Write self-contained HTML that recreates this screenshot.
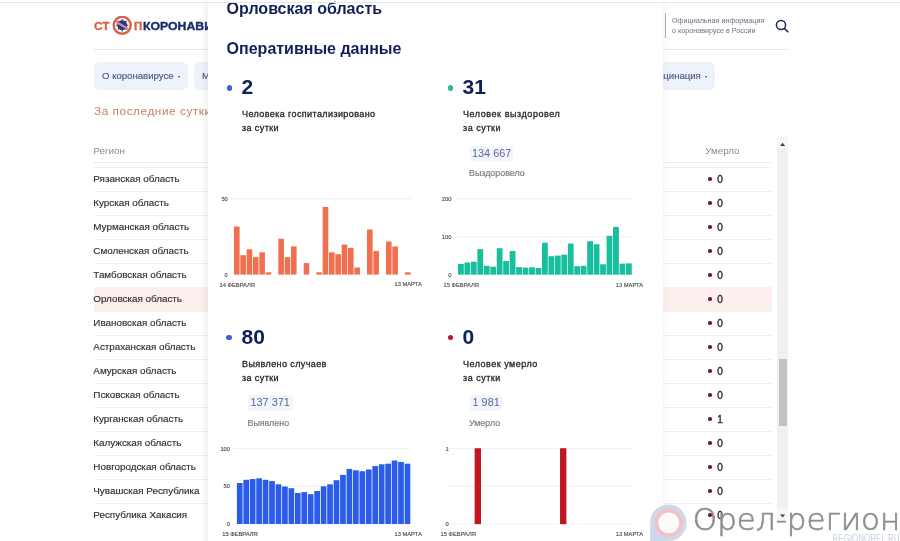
<!DOCTYPE html>
<html lang="ru">
<head>
<meta charset="utf-8">
<title>Орловская область — Оперативные данные</title>
<style>
*{margin:0;padding:0;box-sizing:border-box}
html,body{width:900px;height:541px;overflow:hidden;background:#fff}
body{position:relative;font-family:"Liberation Sans","DejaVu Sans",sans-serif;color:#333}
.abs{position:absolute;white-space:nowrap}
#topline{position:absolute;left:0;top:1.5px;width:900px;height:1.5px;background:#e6e6e6;z-index:5}
/* header */
#logo{position:absolute;left:94px;top:16px;height:18px;width:130px}
#hdr-line{position:absolute;left:94px;top:49px;width:695px;height:1px;background:#e8e8e8}
#hdr-vline{position:absolute;left:665px;top:13px;width:1px;height:25px;background:#a9aebb}
.hdr-info{position:absolute;left:672px;font-size:7.2px;color:#6b7282;line-height:10.6px}
/* nav */
.nav{position:absolute;top:62px;height:28px;border-radius:6px;background:#eef3fb;color:#4b5a88;-webkit-text-stroke:0.15px #4b5a88;font-size:9.6px;line-height:28px;padding-left:8px}
.caret{display:inline-block;width:0;height:0;border-left:1.8px solid transparent;border-right:1.8px solid transparent;border-top:2.8px solid #34416e;margin-left:4.2px;vertical-align:middle;position:relative;top:0.8px}
#last24{position:absolute;left:94px;top:104px;font-size:11.8px;letter-spacing:0.55px;color:#c97d6a}
/* table */
.th{position:absolute;top:144.8px;font-size:9.8px;color:#8a8a8a}
.hl{position:absolute;left:94px;width:678px;height:1px;background:#efefef}
.row{position:absolute;left:94px;width:678px;height:24px}
.row .rn{position:absolute;left:-0.7px;top:6.1px;font-size:9.85px;color:#2e2e2e;-webkit-text-stroke:0.15px #2e2e2e;white-space:nowrap}
.row .dot{position:absolute;left:614.4px;top:9.8px;width:3.4px;height:3.4px;border-radius:50%;background:#6a1d2c}
.row .val{position:absolute;left:623.3px;top:7px;font-size:10px;color:#2a2a2a;-webkit-text-stroke:0.35px #2a2a2a}
.row.sel{background:#fcefee}
/* scrollbar */
#sb{position:absolute;left:777.2px;top:137px;width:10.8px;height:382px;background:#f1f1f1}
#sbup,#sbdn{position:absolute;left:777.2px;width:10.8px;height:12px;background:#f7f7f7}
#sbthumb{position:absolute;left:779px;top:358.5px;width:8px;height:67px;background:#c1c1c1}
/* popup */
#popup{position:absolute;left:208px;top:0;width:455px;height:560px;background:#fff;box-shadow:0 0 10px rgba(0,0,0,.06),-3px 0 6px rgba(0,0,0,.04)}
.ptitle{position:absolute;left:226.6px;font-size:16px;font-weight:bold;color:#112057;white-space:nowrap}
.sdot{position:absolute;width:5.7px;height:5.7px;border-radius:50%}
.num{position:absolute;font-size:21px;font-weight:bold;color:#0f1f58;white-space:nowrap}
.lbl{position:absolute;font-size:9px;letter-spacing:0.4px;-webkit-text-stroke:0.3px #262626;color:#262626;line-height:14.4px;white-space:nowrap}
.badge{position:absolute;height:15.5px;background:#f2f5fc;border-radius:2px;color:#5b6a94;font-size:10.9px;line-height:15.5px;white-space:nowrap}
.sub{position:absolute;font-size:8.9px;color:#7f7f7f;-webkit-text-stroke:0.2px #7f7f7f;white-space:nowrap;margin-top:1.2px}
svg text{font-family:"Liberation Sans",sans-serif}
/* watermark */
#wm{position:absolute;left:0;top:0}
</style>
</head>
<body>
<div id="topline"></div>

<!-- logo -->
<div id="logo">
  <span class="abs" style="left:0;top:2.9px;font-size:11.7px;font-weight:bold;color:#dc6342;-webkit-text-stroke:0.35px #dc6342;transform:scaleX(1.02);transform-origin:0 0">СТ</span>
  <svg class="abs" style="left:17px;top:0" width="22" height="21" viewBox="0 0 22 21">
    <circle cx="11.2" cy="9.3" r="8.5" fill="#fff" stroke="#d8613f" stroke-width="2.4"/>
    <g stroke="#26357e" stroke-width="1.1">
      <line x1="11.2" y1="3.2" x2="11.2" y2="15.4"/><line x1="5.1" y1="9.3" x2="17.3" y2="9.3"/>
      <line x1="6.9" y1="5" x2="15.5" y2="13.6"/><line x1="15.5" y1="5" x2="6.9" y2="13.6"/>
    </g>
    <circle cx="11.2" cy="9.3" r="5" fill="#2a3880"/>
    <line x1="5" y1="5.8" x2="17.2" y2="13" stroke="#c98c9c" stroke-width="2.2"/>
  </svg>
  <span class="abs" style="left:39.8px;top:2.9px;font-size:11.7px;font-weight:bold;color:#dc6342;-webkit-text-stroke:0.35px #dc6342;transform:scaleX(0.98);transform-origin:0 0">П</span>
  <span class="abs" style="left:48.6px;top:2.9px;font-size:11.7px;font-weight:bold;color:#1b2a6b;-webkit-text-stroke:0.35px #1b2a6b;transform:scaleX(1.05);transform-origin:0 0">КОРОНАВИРУС</span>
</div>

<div id="hdr-line"></div>
<div id="hdr-vline"></div>
<div class="hdr-info" style="top:15.6px">Официальная информация<br>о коронавирусе в России</div>
<svg class="abs" style="left:774px;top:18px" width="16" height="16" viewBox="0 0 16 16">
  <circle cx="7" cy="7" r="4.6" fill="none" stroke="#1b2a4e" stroke-width="1.5"/>
  <line x1="10.4" y1="10.4" x2="13.8" y2="13.8" stroke="#1b2a4e" stroke-width="1.6" stroke-linecap="round"/>
</svg>

<!-- nav -->
<div class="nav" style="left:94px;width:94px">О коронавирусе<span class="caret"></span></div>
<div class="nav" style="left:194px;width:100px">Меры поддержки</div>
<div class="nav" style="left:600px;width:115px;padding-left:0;text-align:right;padding-right:8px">Вакцинация<span class="caret"></span></div>

<div id="last24">За последние сутки</div>

<!-- table -->
<div class="th" style="left:93.4px">Регион</div>
<div class="th" style="left:705.2px">Умерло</div>
<div class="hl" style="top:162px"></div>
<div class="hl" style="top:167px"></div>
<div class="row" style="top:167.4px"><span class="rn">Рязанская область</span><span class="dot"></span><span class="val">0</span></div>
<div class="hl" style="top:191.4px"></div>
<div class="row" style="top:191.4px"><span class="rn">Курская область</span><span class="dot"></span><span class="val">0</span></div>
<div class="hl" style="top:215.4px"></div>
<div class="row" style="top:215.4px"><span class="rn">Мурманская область</span><span class="dot"></span><span class="val">0</span></div>
<div class="hl" style="top:239.4px"></div>
<div class="row" style="top:239.4px"><span class="rn">Смоленская область</span><span class="dot"></span><span class="val">0</span></div>
<div class="hl" style="top:263.4px"></div>
<div class="row" style="top:263.4px"><span class="rn">Тамбовская область</span><span class="dot"></span><span class="val">0</span></div>
<div class="hl" style="top:287.4px"></div>
<div class="row sel" style="top:287.4px"><span class="rn">Орловская область</span><span class="dot"></span><span class="val">0</span></div>
<div class="hl" style="top:311.4px"></div>
<div class="row" style="top:311.4px"><span class="rn">Ивановская область</span><span class="dot"></span><span class="val">0</span></div>
<div class="hl" style="top:335.4px"></div>
<div class="row" style="top:335.4px"><span class="rn">Астраханская область</span><span class="dot"></span><span class="val">0</span></div>
<div class="hl" style="top:359.4px"></div>
<div class="row" style="top:359.4px"><span class="rn">Амурская область</span><span class="dot"></span><span class="val">0</span></div>
<div class="hl" style="top:383.4px"></div>
<div class="row" style="top:383.4px"><span class="rn">Псковская область</span><span class="dot"></span><span class="val">0</span></div>
<div class="hl" style="top:407.4px"></div>
<div class="row" style="top:407.4px"><span class="rn">Курганская область</span><span class="dot"></span><span class="val">1</span></div>
<div class="hl" style="top:431.4px"></div>
<div class="row" style="top:431.4px"><span class="rn">Калужская область</span><span class="dot"></span><span class="val">0</span></div>
<div class="hl" style="top:455.4px"></div>
<div class="row" style="top:455.4px"><span class="rn">Новгородская область</span><span class="dot"></span><span class="val">0</span></div>
<div class="hl" style="top:479.4px"></div>
<div class="row" style="top:479.4px"><span class="rn">Чувашская Республика</span><span class="dot"></span><span class="val">0</span></div>
<div class="hl" style="top:503.4px"></div>
<div class="row" style="top:503.4px"><span class="rn">Республика Хакасия</span><span class="dot"></span><span class="val">0</span></div>


<div id="sb"></div>
<div id="sbthumb"></div>
<div id="sbup" style="top:137px"></div><div id="sbdn" style="top:508px"></div>
<svg class="abs" style="left:777px;top:137px" width="12" height="383" viewBox="777 137 12 383"><path d="M782.6 142.7 L785.2 146.1 L780 146.1 Z" fill="#444"/><path d="M780 514.6 L785.2 514.6 L782.6 517.6 Z" fill="#444"/></svg>

<!-- popup -->
<div id="popup"></div>
<div class="ptitle" style="top:-0.3px">Орловская область</div>
<div class="ptitle" style="top:39.9px">Оперативные данные</div>

<span class="sdot" style="left:226.5px;top:84.9px;background:#3f60cf"></span>
<div class="num" style="left:241.6px;top:75.3px">2</div>
<div class="lbl" style="left:242px;top:107px">Человека госпитализировано<br>за сутки</div>

<span class="sdot" style="left:447.8px;top:84.9px;background:#27b8a0"></span>
<div class="num" style="left:462.6px;top:75.3px">31</div>
<div class="lbl" style="left:463px;top:107px;letter-spacing:0.56px">Человек выздоровел<br>за сутки</div>
<div class="badge" style="left:469.5px;top:146px;width:43px;padding-left:2.5px">134 667</div>
<div class="sub" style="left:469px;top:167px">Выздоровело</div>

<span class="sdot" style="left:226.2px;top:334.5px;background:#3f60cf"></span>
<div class="num" style="left:241.6px;top:325px">80</div>
<div class="lbl" style="left:242px;top:356.5px">Выявлено случаев<br>за сутки</div>
<div class="badge" style="left:247.5px;top:395.3px;width:45px;padding-left:3px">137 371</div>
<div class="sub" style="left:247.5px;top:416.5px">Выявлено</div>

<span class="sdot" style="left:447.8px;top:334.5px;background:#b5152b"></span>
<div class="num" style="left:462.6px;top:325px">0</div>
<div class="lbl" style="left:463px;top:356.5px;letter-spacing:0.5px">Человек умерло<br>за сутки</div>
<div class="badge" style="left:469.5px;top:395.3px;width:32px;padding-left:3px">1 981</div>
<div class="sub" style="left:469px;top:416.5px">Умерло</div>
<svg class="abs" style="left:0;top:0" width="900" height="541" viewBox="0 0 900 541">
<g stroke="#f0f0f0" stroke-width="1">
<line x1="231.3" y1="198.7" x2="411.9" y2="198.7"/>
<line x1="455.6" y1="198.7" x2="631.9" y2="198.7"/><line x1="455.6" y1="236.7" x2="631.9" y2="236.7"/>
<line x1="232.7" y1="448.4" x2="410.6" y2="448.4"/><line x1="232.7" y1="486.2" x2="410.6" y2="486.2"/>
<line x1="448" y1="448.4" x2="631.9" y2="448.4"/><line x1="448" y1="486.2" x2="631.9" y2="486.2"/><line x1="448" y1="524" x2="631.9" y2="524"/>
</g>
<g fill="#ef6f4f"><rect x="234.00" y="226.50" width="5.6" height="48.10"/><rect x="240.33" y="255.20" width="5.6" height="19.40"/><rect x="246.67" y="249.30" width="5.6" height="25.30"/><rect x="253.00" y="257.20" width="5.6" height="17.40"/><rect x="259.33" y="252.30" width="5.6" height="22.30"/><rect x="265.67" y="272.30" width="5.6" height="2.30"/><rect x="278.33" y="238.70" width="5.6" height="35.90"/><rect x="284.66" y="257.20" width="5.6" height="17.40"/><rect x="291.00" y="246.40" width="5.6" height="28.20"/><rect x="303.66" y="263.10" width="5.6" height="11.50"/><rect x="316.33" y="272.30" width="5.6" height="2.30"/><rect x="322.66" y="206.90" width="5.6" height="67.70"/><rect x="329.00" y="252.30" width="5.6" height="22.30"/><rect x="335.33" y="254.20" width="5.6" height="20.40"/><rect x="341.66" y="244.60" width="5.6" height="30.00"/><rect x="347.99" y="247.80" width="5.6" height="26.80"/><rect x="354.33" y="267.50" width="5.6" height="7.10"/><rect x="366.99" y="229.50" width="5.6" height="45.10"/><rect x="373.33" y="251.00" width="5.6" height="23.60"/><rect x="385.99" y="241.60" width="5.6" height="33.00"/><rect x="392.33" y="246.40" width="5.6" height="28.20"/><rect x="404.99" y="272.30" width="5.6" height="2.30"/></g>
<g fill="#17bf9f"><rect x="458.00" y="263.90" width="5.8" height="10.80"/><rect x="464.46" y="262.50" width="5.8" height="12.20"/><rect x="470.92" y="261.70" width="5.8" height="13.00"/><rect x="477.38" y="249.20" width="5.8" height="25.50"/><rect x="483.84" y="265.80" width="5.8" height="8.90"/><rect x="490.30" y="266.70" width="5.8" height="8.00"/><rect x="496.76" y="248.20" width="5.8" height="26.50"/><rect x="503.22" y="261.00" width="5.8" height="13.70"/><rect x="509.68" y="251.00" width="5.8" height="23.70"/><rect x="516.14" y="267.10" width="5.8" height="7.60"/><rect x="522.60" y="267.60" width="5.8" height="7.10"/><rect x="529.06" y="267.30" width="5.8" height="7.40"/><rect x="535.52" y="268.00" width="5.8" height="6.70"/><rect x="541.98" y="242.70" width="5.8" height="32.00"/><rect x="548.44" y="256.20" width="5.8" height="18.50"/><rect x="554.90" y="255.60" width="5.8" height="19.10"/><rect x="561.36" y="254.70" width="5.8" height="20.00"/><rect x="567.82" y="243.60" width="5.8" height="31.10"/><rect x="574.28" y="266.20" width="5.8" height="8.50"/><rect x="580.74" y="265.80" width="5.8" height="8.90"/><rect x="587.20" y="241.20" width="5.8" height="33.50"/><rect x="593.66" y="244.20" width="5.8" height="30.50"/><rect x="600.12" y="264.30" width="5.8" height="10.40"/><rect x="606.58" y="235.80" width="5.8" height="38.90"/><rect x="613.04" y="227.00" width="5.8" height="47.70"/><rect x="619.50" y="263.60" width="5.8" height="11.10"/><rect x="625.96" y="263.40" width="5.8" height="11.30"/></g>
<g fill="#2b5ce9"><rect x="236.90" y="483.00" width="5.7" height="41.00"/><rect x="243.35" y="479.80" width="5.7" height="44.20"/><rect x="249.80" y="479.00" width="5.7" height="45.00"/><rect x="256.25" y="478.30" width="5.7" height="45.70"/><rect x="262.70" y="479.80" width="5.7" height="44.20"/><rect x="269.15" y="481.10" width="5.7" height="42.90"/><rect x="275.60" y="484.30" width="5.7" height="39.70"/><rect x="282.05" y="486.50" width="5.7" height="37.50"/><rect x="288.50" y="488.20" width="5.7" height="35.80"/><rect x="294.95" y="493.00" width="5.7" height="31.00"/><rect x="301.40" y="492.10" width="5.7" height="31.90"/><rect x="307.85" y="494.20" width="5.7" height="29.80"/><rect x="314.30" y="491.00" width="5.7" height="33.00"/><rect x="320.75" y="486.30" width="5.7" height="37.70"/><rect x="327.20" y="484.30" width="5.7" height="39.70"/><rect x="333.65" y="480.20" width="5.7" height="43.80"/><rect x="340.10" y="474.90" width="5.7" height="49.10"/><rect x="346.55" y="468.90" width="5.7" height="55.10"/><rect x="353.00" y="470.30" width="5.7" height="53.70"/><rect x="359.45" y="471.20" width="5.7" height="52.80"/><rect x="365.90" y="469.50" width="5.7" height="54.50"/><rect x="372.35" y="466.10" width="5.7" height="57.90"/><rect x="378.80" y="464.30" width="5.7" height="59.70"/><rect x="385.25" y="463.70" width="5.7" height="60.30"/><rect x="391.70" y="460.50" width="5.7" height="63.50"/><rect x="398.15" y="462.00" width="5.7" height="62.00"/><rect x="404.60" y="463.70" width="5.7" height="60.30"/></g>
<g fill="#c8141f" stroke="#a3111d" stroke-width="0.9"><rect x="475.1" y="448.8" width="5.4" height="74.9"/><rect x="560.6" y="448.8" width="5.3" height="74.9"/></g>
<g style="font-size:5.75px" fill="#474747" stroke="#474747" stroke-width="0.12">
<text x="227.8" y="200.8" text-anchor="end">50</text><text x="227.8" y="276.8" text-anchor="end">0</text>
<text x="451.4" y="200.8" text-anchor="end">200</text><text x="451.4" y="238.7" text-anchor="end">100</text><text x="451.4" y="276.8" text-anchor="end">0</text>
<text x="230" y="450.5" text-anchor="end">100</text><text x="230" y="488.2" text-anchor="end">50</text><text x="230" y="526.1" text-anchor="end">0</text>
<text x="448.6" y="450.5" text-anchor="end">1</text><text x="448.6" y="526.1" text-anchor="end">0</text>
<text x="219.6" y="286.6" text-anchor="start">14 ФЕВРАЛЯ</text><text x="421.8" y="286.4" text-anchor="end">13 МАРТА</text>
<text x="443.6" y="286.6" text-anchor="start">15 ФЕВРАЛЯ</text><text x="643.2" y="286.6" text-anchor="end">13 МАРТА</text>
<text x="222.2" y="536" text-anchor="start">15 ФЕВРАЛЯ</text><text x="421.8" y="536" text-anchor="end">13 МАРТА</text>
<text x="440.6" y="536" text-anchor="start">15 ФЕВРАЛЯ</text><text x="643.2" y="536" text-anchor="end">13 МАРТА</text>
</g>
</svg>

<!-- watermark -->
<svg class="abs" style="left:0;top:0" width="900" height="541" viewBox="0 0 900 541">
  <g opacity="0.9">
    <path d="M650.2 541 L650.2 520 A18.3 18.3 0 1 1 668.5 541.1 Z" fill="#ccd5e7"/>
    <circle cx="668.8" cy="522.8" r="12.3" fill="none" stroke="#f3bcc0" stroke-width="3.9"/>
    <circle cx="668.8" cy="522.8" r="10.4" fill="#fbfbfc"/>
  </g>
  <text x="692.8" y="529.8" textLength="207.5" lengthAdjust="spacingAndGlyphs" style="font-family:'DejaVu Sans Light','DejaVu Sans';font-weight:200;font-size:30.4px" fill="#8e8e8e" stroke="#8e8e8e" stroke-width="0.7">Орел-регион</text>
  <text x="832.6" y="541.6" textLength="67" lengthAdjust="spacingAndGlyphs" style="font-family:'Liberation Sans';font-size:10px" fill="#c9d2e3">REGIONOREL.RU</text>
</svg>
</body>
</html>
